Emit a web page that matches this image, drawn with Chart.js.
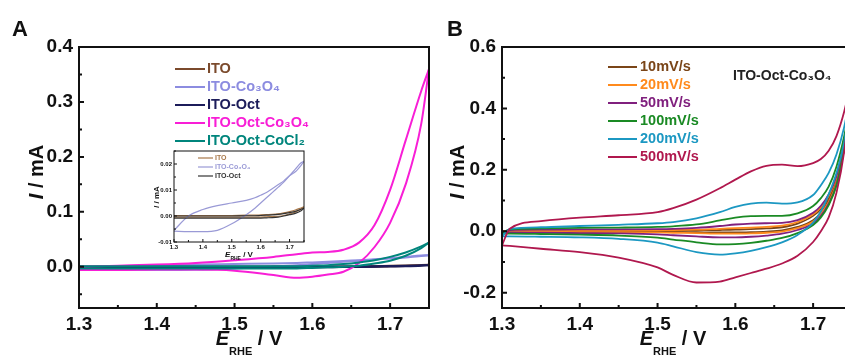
<!DOCTYPE html>
<html>
<head>
<meta charset="utf-8">
<script src="https://cdn.jsdelivr.net/npm/chart.js@4.4.0/dist/chart.umd.min.js"></script>
<style>
html,body{margin:0;padding:0;width:845px;height:356px;overflow:hidden;background:#fff;}
canvas{position:absolute;}
</style>
</head>
<body>
<canvas id="chartA" width="440" height="356" style="left:0px;top:0px"></canvas>
<canvas id="chartB" width="445" height="356" style="left:420px;top:0px"></canvas>
<canvas id="inset" width="170" height="122" style="left:140px;top:140px"></canvas>
<script>
// potential grid (V vs RHE), both scan branches stored in ascending order
var potA = [1.30, 1.35, 1.40, 1.45, 1.50, 1.55, 1.58, 1.60, 1.62, 1.64, 1.66, 1.68, 1.70, 1.72, 1.74, 1.75];
var potB = [1.30, 1.31, 1.35, 1.40, 1.45, 1.50, 1.52, 1.55, 1.58, 1.60, 1.62, 1.64, 1.66, 1.68, 1.70, 1.71, 1.72, 1.73, 1.74, 1.75];

// panel A currents (mA)
var itoFwd = [0.0002, 0.0002, 0.0002, 0.0002, 0.0002, 0.0003, 0.0003, 0.0004, 0.0005, 0.0006, 0.0008, 0.0012, 0.0017, 0.0023, 0.0031, 0.0035];
var itoRev = [-0.0004, -0.0004, -0.0004, -0.0004, -0.0004, -0.0004, -0.0004, -0.0004, -0.0003, -0.0002, -0.0001, 0.0002, 0.0008, 0.0015, 0.0027, 0.0035];
var co3o4Fwd = [-0.0055, 0.0, 0.0025, 0.004, 0.005, 0.006, 0.007, 0.008, 0.009, 0.0105, 0.012, 0.0135, 0.0155, 0.017, 0.0195, 0.021];
var co3o4Rev = [-0.0058, -0.006, -0.006, -0.0055, -0.003, 0.0005, 0.003, 0.005, 0.007, 0.009, 0.011, 0.013, 0.0155, 0.018, 0.0205, 0.021];
var octFwd = [0.0, 0.0, 0.0, 0.0, 0.0, 0.0001, 0.0001, 0.0002, 0.0003, 0.0004, 0.0006, 0.0009, 0.0013, 0.0018, 0.0026, 0.003];
var octRev = [-0.0008, -0.0008, -0.0008, -0.0008, -0.0008, -0.0008, -0.0008, -0.0008, -0.0007, -0.0006, -0.0004, 0.0, 0.0005, 0.001, 0.002, 0.003];
var octCoFwd = [0.0, 0.002, 0.004, 0.007, 0.012, 0.018, 0.023, 0.026, 0.027, 0.031, 0.044, 0.076, 0.14, 0.23, 0.32, 0.36];
var octCoRev = [-0.006, -0.006, -0.005, -0.005, -0.007, -0.015, -0.02, -0.018, -0.014, -0.009, 0.007, 0.036, 0.08, 0.15, 0.26, 0.36];
var octClFwd = [0.001, 0.001, 0.001, 0.001, 0.001, 0.001, 0.001, 0.002, 0.003, 0.005, 0.008, 0.012, 0.018, 0.026, 0.037, 0.044];
var octClRev = [-0.003, -0.003, -0.003, -0.003, -0.003, -0.003, -0.003, -0.002, -0.001, 0.0, 0.002, 0.006, 0.011, 0.02, 0.034, 0.044];

// panel B currents (mA) per scan rate
var r10Fwd = [-0.001, 0.002, 0.002, 0.002, 0.002, 0.002, 0.002, 0.003, 0.004, 0.005, 0.007, 0.009, 0.013, 0.025, 0.05, 0.073, 0.11, 0.17, 0.28, 0.42];
var r10Rev = [-0.001, -0.001, -0.001, -0.001, -0.001, -0.002, -0.002, -0.003, -0.004, -0.004, -0.003, -0.001, 0.003, 0.014, 0.036, 0.06, 0.1, 0.16, 0.27, 0.42];
var r20Fwd = [-0.002, 0.003, 0.003, 0.003, 0.003, 0.004, 0.004, 0.005, 0.008, 0.01, 0.012, 0.014, 0.018, 0.03, 0.055, 0.078, 0.115, 0.175, 0.285, 0.43];
var r20Rev = [-0.002, -0.002, -0.002, -0.003, -0.003, -0.004, -0.005, -0.006, -0.008, -0.008, -0.007, -0.005, -0.001, 0.01, 0.032, 0.057, 0.095, 0.155, 0.27, 0.43];
var r50Fwd = [-0.004, 0.004, 0.005, 0.006, 0.006, 0.007, 0.008, 0.011, 0.017, 0.022, 0.025, 0.026, 0.027, 0.036, 0.06, 0.083, 0.12, 0.18, 0.29, 0.44];
var r50Rev = [-0.004, -0.004, -0.005, -0.006, -0.007, -0.01, -0.013, -0.017, -0.02, -0.02, -0.018, -0.014, -0.008, 0.004, 0.025, 0.05, 0.09, 0.15, 0.27, 0.44];
var r100Fwd = [-0.008, 0.006, 0.009, 0.011, 0.012, 0.014, 0.016, 0.022, 0.035, 0.044, 0.049, 0.05, 0.05, 0.058, 0.082, 0.108, 0.145, 0.21, 0.31, 0.45];
var r100Rev = [-0.008, -0.008, -0.009, -0.011, -0.014, -0.021, -0.027, -0.036, -0.043, -0.042, -0.038, -0.031, -0.022, -0.006, 0.02, 0.045, 0.085, 0.15, 0.27, 0.45];
var r200Fwd = [-0.017, 0.008, 0.013, 0.017, 0.021, 0.026, 0.03, 0.042, 0.062, 0.079, 0.09, 0.093, 0.09, 0.094, 0.118, 0.15, 0.19, 0.25, 0.34, 0.47];
var r200Rev = [-0.017, -0.017, -0.018, -0.02, -0.025, -0.037, -0.049, -0.068, -0.076, -0.072, -0.064, -0.052, -0.036, -0.012, 0.028, 0.065, 0.12, 0.19, 0.29, 0.47];
var r500Fwd = [-0.046, 0.008, 0.033, 0.044, 0.052, 0.062, 0.075, 0.103, 0.14, 0.168, 0.195, 0.213, 0.217, 0.212, 0.222, 0.235, 0.262, 0.31, 0.39, 0.5];
var r500Rev = [-0.046, -0.048, -0.057, -0.068, -0.086, -0.118, -0.142, -0.167, -0.164, -0.15, -0.136, -0.122, -0.105, -0.08, -0.035, 0.0, 0.045, 0.125, 0.26, 0.5];

var labelsA = ['ITO', 'ITO-Co\u2083O\u2084', 'ITO-Oct', 'ITO-Oct-Co\u2083O\u2084', 'ITO-Oct-CoCl\u2082'];
var colorsA = ['#7b4a2c', '#8c8ce0', '#1c1c5a', '#f81ed6', '#00857c'];
var labelsB = ['10mV/s', '20mV/s', '50mV/s', '100mV/s', '200mV/s', '500mV/s'];
var colorsB = ['#7a4518', '#ff8a1c', '#80207e', '#1a8a24', '#1c98c2', '#b0184e'];
var insetColors = ['#a8784a', '#9a9ad6', '#333333'];

var xTicks = [1.3, 1.4, 1.5, 1.6, 1.7];
var yTicksA = [0.0, 0.1, 0.2, 0.3, 0.4];
var yTicksB = [-0.2, 0.0, 0.2, 0.4, 0.6];
var yTicksInset = [-0.01, 0.00, 0.01, 0.02];

Chart.defaults.font.family = "'Liberation Sans', Arial, sans-serif";
Chart.defaults.font.weight = 'bold';
Chart.defaults.color = '#111';

function pts(xs, ys) {
	return xs.map(function(x, i) { return { x: x, y: ys[i] }; });
}

function loop(xs, fwd, rev, color, width) {
	var base = { borderColor: color, borderWidth: width, showLine: true, pointRadius: 0, cubicInterpolationMode: 'monotone', fill: false };
	return [
		Object.assign({ data: pts(xs, fwd) }, base),
		Object.assign({ data: pts(xs, rev) }, base)
	];
}

function tickMarks(scale, major, len, draw) {
	var half = (major[1] - major[0]) / 2;
	for (var k = -6; k < 30; k++) {
		var v = major[0] + k * half;
		if (v < scale.min - 1e-9 || v > scale.max + 1e-9) continue;
		draw(scale.getPixelForValue(v), k % 2 === 0 ? len : Math.round(len * 0.6));
	}
}

function runsWidth(ctx, runs) {
	var w = 0;
	runs.forEach(function(r) { ctx.font = r.font; w += ctx.measureText(r.text).width; });
	return w;
}

function drawRuns(ctx, runs, cx, y) {
	var x = cx - runsWidth(ctx, runs) / 2;
	ctx.textAlign = 'left';
	runs.forEach(function(r) {
		ctx.font = r.font;
		ctx.fillText(r.text, x, y + (r.dy || 0));
		x += ctx.measureText(r.text).width;
	});
}

// frame, inward ticks, axis titles, legend and notes
function decor(s) {
	return {
		id: 'decor',
		afterDatasetsDraw: function(chart) {
			var ctx = chart.ctx, a = chart.chartArea;
			var sx = chart.scales.x, sy = chart.scales.y;
			ctx.save();
			ctx.strokeStyle = '#111';
			ctx.lineWidth = s.frame;
			ctx.strokeRect(a.left, a.top, a.right - a.left, a.bottom - a.top);
			ctx.beginPath();
			tickMarks(sx, s.xTicks, s.tick, function(p, len) { ctx.moveTo(p, a.bottom); ctx.lineTo(p, a.bottom - len); });
			tickMarks(sy, s.yTicks, s.tick, function(p, len) { ctx.moveTo(a.left, p); ctx.lineTo(a.left + len, p); });
			ctx.stroke();

			ctx.fillStyle = '#111';
			ctx.textBaseline = 'alphabetic';
			drawRuns(ctx, s.xTitle.runs, s.xTitle.x, s.xTitle.y);
			ctx.save();
			ctx.translate(s.yTitle.x, s.yTitle.y);
			ctx.rotate(-Math.PI / 2);
			ctx.textBaseline = 'middle';
			drawRuns(ctx, s.yTitle.runs, 0, 0);
			ctx.restore();

			if (s.letter) {
				ctx.font = 'bold 22px "Liberation Sans", Arial, sans-serif';
				ctx.textAlign = 'left';
				ctx.fillText(s.letter.text, s.letter.x, s.letter.y);
			}

			var lg = s.legend;
			ctx.textBaseline = 'middle';
			ctx.textAlign = 'left';
			ctx.font = lg.font;
			lg.labels.forEach(function(label, i) {
				var y = lg.y + i * lg.dy;
				ctx.strokeStyle = lg.colors[i];
				ctx.lineWidth = lg.lw;
				ctx.beginPath();
				ctx.moveTo(lg.x1, y);
				ctx.lineTo(lg.x2, y);
				ctx.stroke();
				ctx.fillStyle = lg.colors[i];
				ctx.fillText(label, lg.tx, y);
			});

			(s.notes || []).forEach(function(n) {
				ctx.font = n.font;
				ctx.fillStyle = n.color;
				ctx.fillText(n.text, n.x, n.y);
			});
			ctx.restore();
		}
	};
}

function axes(xmin, xmax, ymin, ymax, yt, yDigits, yWidth, xHeight, fontSize, padX, padY) {
	return {
		x: {
			type: 'linear', min: xmin, max: xmax,
			afterBuildTicks: function(s) { s.ticks = xTicks.map(function(v) { return { value: v }; }); },
			afterFit: function(s) { s.height = xHeight; },
			grid: { display: false, drawTicks: false },
			border: { display: false },
			ticks: { font: { size: fontSize, weight: 'bold' }, color: '#111', padding: padX, maxRotation: 0, autoSkip: false,
				callback: function(v) { return v.toFixed(1); } }
		},
		y: {
			type: 'linear', min: ymin, max: ymax,
			afterBuildTicks: function(s) { s.ticks = yt.map(function(v) { return { value: v }; }); },
			afterFit: function(s) { s.width = yWidth; },
			grid: { display: false, drawTicks: false },
			border: { display: false },
			ticks: { font: { size: fontSize, weight: 'bold' }, color: '#111', padding: padY, autoSkip: false,
				callback: function(v) { return v.toFixed(yDigits); } }
		}
	};
}

var F = '"Liberation Sans", Arial, sans-serif';
function titleRuns(size, subSize, subDy) {
	return {
		x: [
			{ text: 'E', font: 'italic bold ' + size + 'px ' + F },
			{ text: 'RHE', font: 'bold ' + subSize + 'px ' + F, dy: subDy },
			{ text: ' / V', font: 'bold ' + size + 'px ' + F }
		],
		y: [
			{ text: 'I', font: 'italic bold ' + size + 'px ' + F },
			{ text: ' / mA', font: 'bold ' + size + 'px ' + F }
		]
	};
}

var common = {
	responsive: false,
	animation: false,
	events: [],
	plugins: { legend: { display: false }, tooltip: { enabled: false } }
};

// panel A
var fwdA = [itoFwd, co3o4Fwd, octFwd, octCoFwd, octClFwd];
var revA = [itoRev, co3o4Rev, octRev, octCoRev, octClRev];
var setsA = [];
labelsA.forEach(function(l, i) { setsA = setsA.concat(loop(potA, fwdA[i], revA[i], colorsA[i], 2)); });
setsA.reverse();
var tA = titleRuns(20, 11, 10);
new Chart(document.getElementById('chartA'), {
	type: 'scatter',
	data: { datasets: setsA },
	options: Object.assign({}, common, {
		layout: { padding: { left: 0, top: 47, right: 11, bottom: 0 } },
		scales: axes(1.3, 1.75, -0.075, 0.4, yTicksA, 1, 79, 48, 19, 5, 6)
	}),
	plugins: [decor({
		frame: 2, tick: 5, xTicks: xTicks, yTicks: yTicksA,
		xTitle: { runs: tA.x, x: 249, y: 345 },
		yTitle: { runs: tA.y, x: 37, y: 172 },
		letter: { text: 'A', x: 12, y: 36 },
		legend: { labels: labelsA, colors: colorsA, x1: 175, x2: 205, tx: 207, y: 69, dy: 18, lw: 2, font: 'bold 14.5px ' + F }
	})]
});

// inset of panel A (first three samples)
var setsI = [];
[0, 1, 2].forEach(function(i) { setsI = setsI.concat(loop(potA, fwdA[i], revA[i], insetColors[i], 1.2)); });
setsI.reverse();
var tI = titleRuns(8, 5, 3);
new Chart(document.getElementById('inset'), {
	type: 'scatter',
	data: { datasets: setsI },
	options: Object.assign({}, common, {
		layout: { padding: { left: 0, top: 11, right: 6, bottom: 0 } },
		scales: axes(1.3, 1.75, -0.01, 0.025, yTicksInset, 2, 34, 20, 6, 2, 2)
	}),
	plugins: [decor({
		frame: 1, tick: 3, xTicks: xTicks, yTicks: yTicksInset,
		xTitle: { runs: tI.x, x: 99, y: 117 },
		yTitle: { runs: tI.y, x: 17, y: 57 },
		legend: { labels: labelsA.slice(0, 3), colors: insetColors, x1: 58, x2: 73, tx: 75, y: 18, dy: 9, lw: 1.2, font: 'bold 7px ' + F }
	})]
});

// panel B
var fwdB = [r10Fwd, r20Fwd, r50Fwd, r100Fwd, r200Fwd, r500Fwd];
var revB = [r10Rev, r20Rev, r50Rev, r100Rev, r200Rev, r500Rev];
var setsB = [];
labelsB.forEach(function(l, i) { setsB = setsB.concat(loop(potB, fwdB[i], revB[i], colorsB[i], 1.8)); });
setsB.reverse();
var tB = titleRuns(20, 11, 10);
new Chart(document.getElementById('chartB'), {
	type: 'scatter',
	data: { datasets: setsB },
	options: Object.assign({}, common, {
		layout: { padding: { left: 0, top: 47, right: 13, bottom: 0 } },
		scales: axes(1.3, 1.75, -0.25, 0.6, yTicksB, 1, 82, 48, 19, 5, 6)
	}),
	plugins: [decor({
		frame: 2, tick: 5, xTicks: xTicks, yTicks: yTicksB,
		xTitle: { runs: tB.x, x: 253, y: 345 },
		yTitle: { runs: tB.y, x: 38, y: 172 },
		letter: { text: 'B', x: 27, y: 36 },
		legend: { labels: labelsB, colors: colorsB, x1: 188, x2: 217, tx: 220, y: 67, dy: 18, lw: 2, font: 'bold 14.5px ' + F },
		notes: [{ text: 'ITO-Oct-Co\u2083O\u2084', x: 313, y: 76, color: '#222', font: 'bold 14px ' + F }]
	})]
});
</script>
</body>
</html>
